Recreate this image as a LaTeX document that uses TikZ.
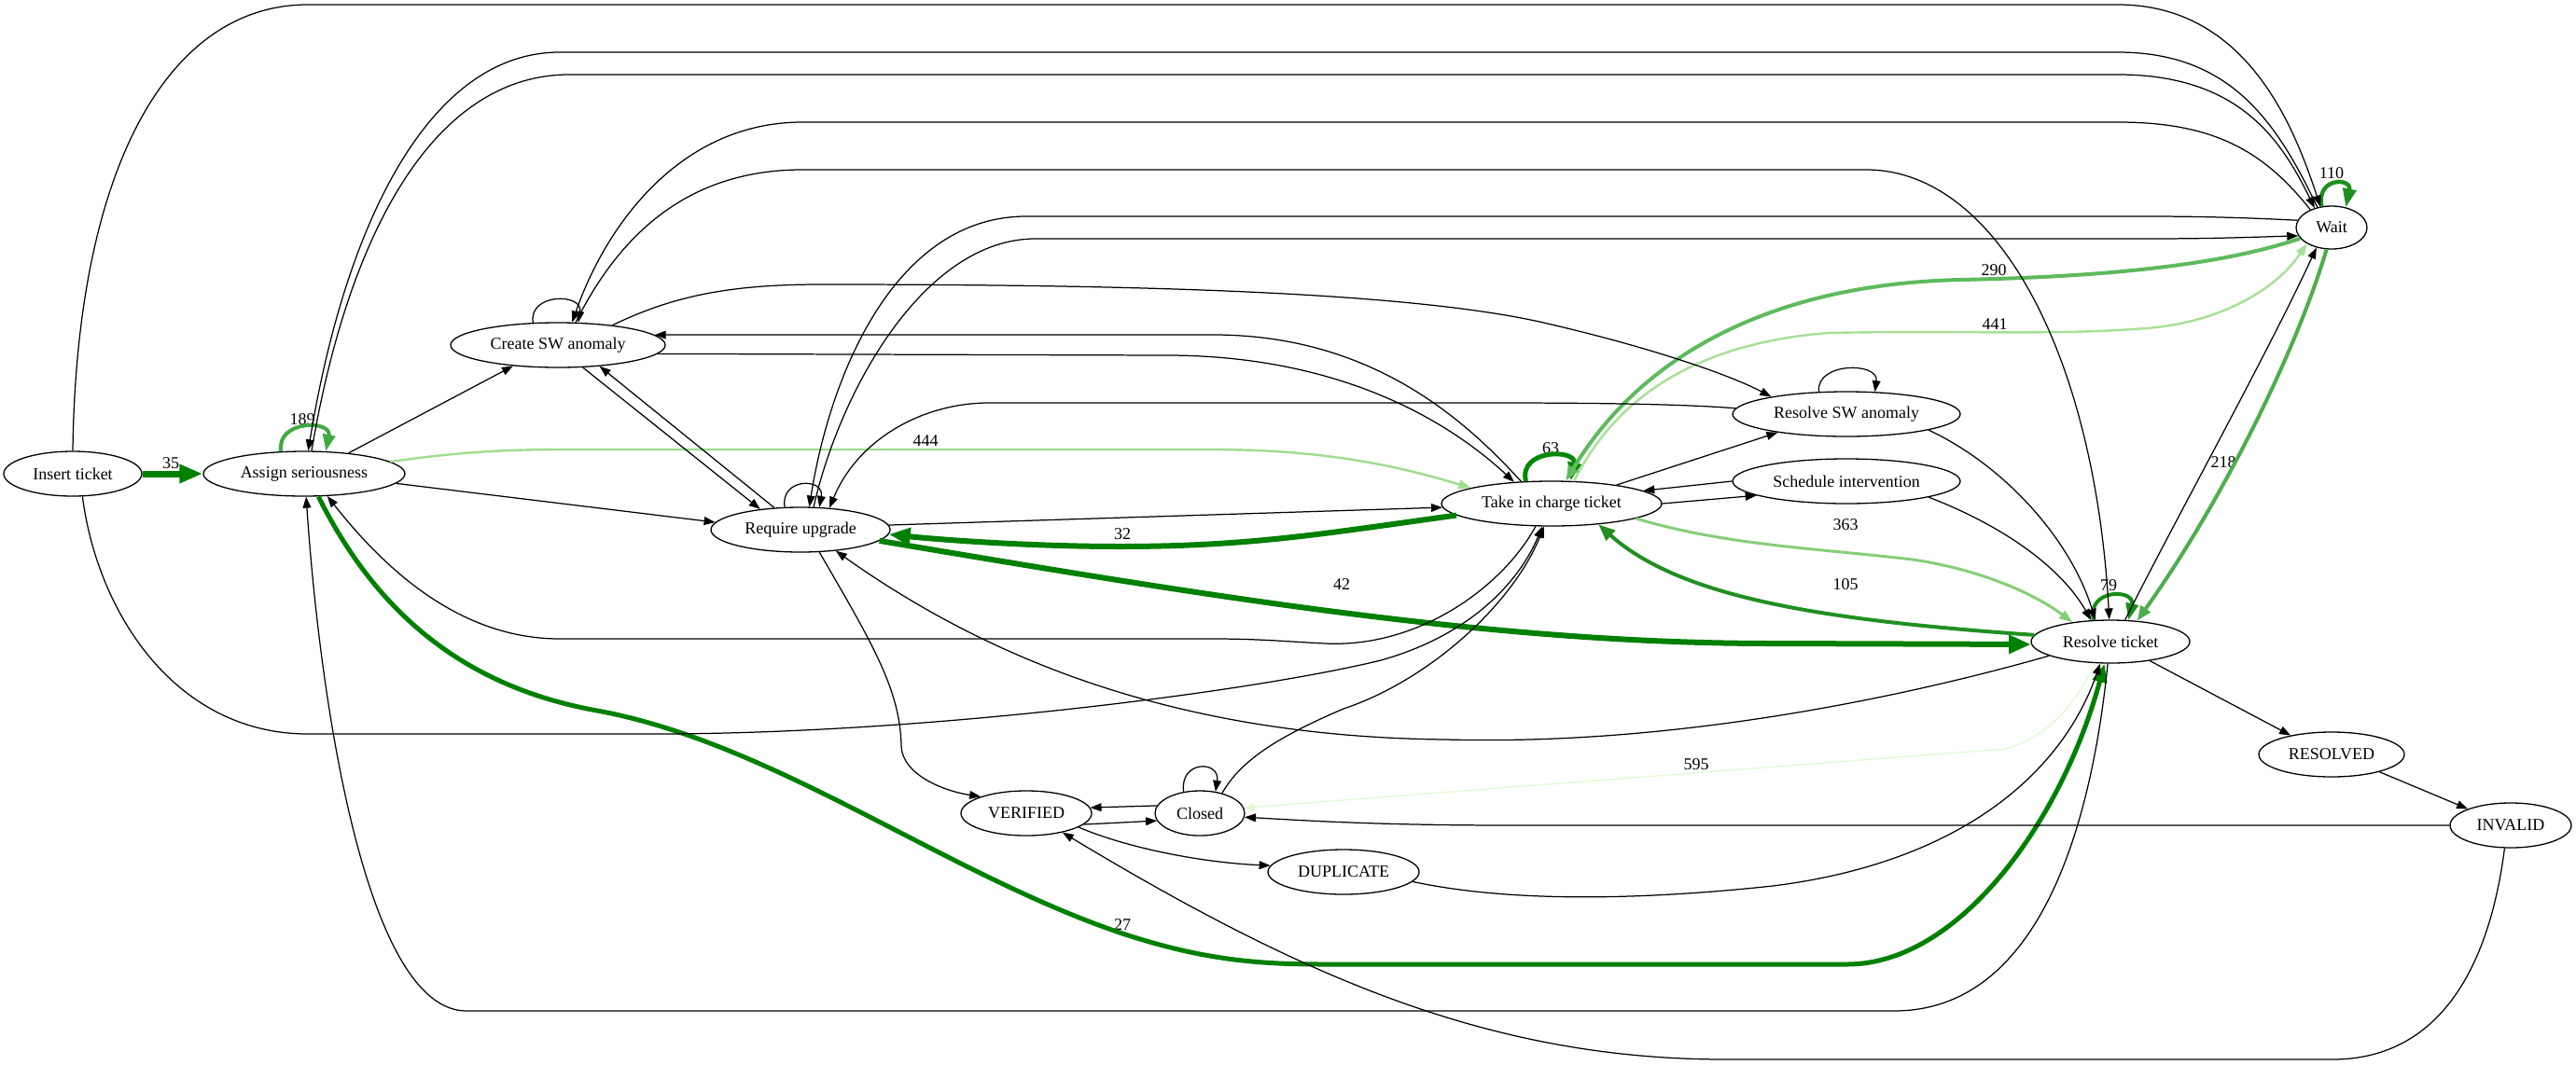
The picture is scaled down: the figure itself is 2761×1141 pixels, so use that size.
\documentclass[tikz,border=0pt]{standalone}
\usepackage{fontspec}
\setmainfont{Liberation Serif}
\usetikzlibrary{shapes.geometric,arrows.meta}
\definecolor{gA}{HTML}{008000}
\definecolor{gB}{HTML}{41A941}
\definecolor{gC}{HTML}{078807}
\definecolor{gD}{HTML}{1F901F}
\definecolor{gE}{HTML}{178C17}
\definecolor{gF}{HTML}{218F21}
\definecolor{gG}{HTML}{4DAE4D}
\definecolor{gH}{HTML}{5DBA5D}
\definecolor{gI}{HTML}{86CE78}
\definecolor{gJ}{HTML}{A6E096}
\definecolor{gK}{HTML}{9EDC8E}
\definecolor{gL}{HTML}{DDFBCB}
\begin{document}
\begin{tikzpicture}[x=0.5pt,y=-0.5pt,
  st/.style={ellipse,draw,line width=0.65pt,inner sep=0pt,font=\fontsize{9}{10}\selectfont},
  ed/.style={draw=black,line width=0.62pt,-{Triangle[length=6pt,width=4.4pt]}},
  ge/.style n args={4}{draw=#1,line width=#2,-{Triangle[length=#3,width=#4]}},
  lbl/.style={inner sep=0pt,font=\fontsize{9}{10}\selectfont}]
\path[fill=white] (0,0) rectangle (2761,1141);
\useasboundingbox (0,0) rectangle (2761,1141);

% states
\node[st,minimum width=74pt,minimum height=24pt] (ins) at (78,508) {Insert ticket};
\node[st,minimum width=108pt,minimum height=24pt] (asg) at (326,508) {Assign seriousness};
\node[st,minimum width=115pt,minimum height=24pt] (csw) at (598,370) {Create SW anomaly};
\node[st,minimum width=96pt,minimum height=24pt] (req) at (858,568) {Require upgrade};
\node[st,minimum width=118pt,minimum height=24pt] (tic) at (1663,540) {Take in charge ticket};
\node[st,minimum width=122pt,minimum height=24pt] (rsw) at (1979,444) {Resolve SW anomaly};
\node[st,minimum width=122pt,minimum height=24pt] (sch) at (1979,516) {Schedule intervention};
\node[st,minimum width=38pt,minimum height=23pt] (wai) at (2499,244) {Wait};
\node[st,minimum width=85pt,minimum height=23pt] (res) at (2262,688) {Resolve ticket};
\node[st,minimum width=78pt,minimum height=24pt] (rsd) at (2499,809) {RESOLVED};
\node[st,minimum width=65pt,minimum height=24pt] (inv) at (2691,885) {INVALID};
\node[st,minimum width=70pt,minimum height=24pt] (ver) at (1100,872) {VERIFIED};
\node[st,minimum width=48pt,minimum height=24pt] (clo) at (1286,872) {Closed};
\node[st,minimum width=81pt,minimum height=24pt] (dup) at (1440,935) {DUPLICATE};

% frequency labels
\node[lbl] (l35) at (183,497) {35};
\node[lbl] (l189) at (324,450) {189};
\node[lbl] (l444) at (992,473) {444};
\node[lbl] (l32) at (1203,573) {32};
\node[lbl] (l42) at (1438,627) {42};
\node[lbl] (l63) at (1662,481) {63};
\node[lbl] (l290) at (2137,290) {290};
\node[lbl] (l441) at (2138,348) {441};
\node[lbl] (l363) at (1978,563) {363};
\node[lbl] (l105) at (1978,627) {105};
\node[lbl] (l110) at (2499,186) {110};
\node[lbl] (l218) at (2383,496) {218};
\node[lbl] (l79) at (2260,628) {79};
\node[lbl] (l595) at (1818,820) {595};
\node[lbl] (l27) at (1203,992) {27};

% weighted transitions
\draw[ge={gA}{3.5pt}{12.5pt}{9.5pt}] (ins.east) -- (asg.west);
\draw[ge={gB}{2pt}{9pt}{6.5pt}] (asg.136) .. controls (296,450) and (356,450) .. (asg.46);
\draw[ge={gK}{1.2pt}{6.5pt}{4.8pt}] (asg.8) .. controls (470,488) and (520,482) .. (600,482) -- (1300,482) .. controls (1420,482) and (1500,500) .. (tic.169);
\draw[ge={gA}{2.5pt}{10pt}{7.5pt}] (asg.-58) .. controls (400,650) and (490,735) .. (640,762) .. controls (830,797) and (1010,935) .. (1200,1000) .. controls (1290,1030) and (1350,1034) .. (1420,1034) -- (1980,1034) .. controls (2100,1034) and (2210,880) .. (res.-105);
\draw[ge={gA}{3pt}{11.5pt}{9pt}] (tic.-173) .. controls (1420,572) and (1340,586) .. (1200,586) .. controls (1100,586) and (1000,578) .. (req.-3);
\draw[ge={gA}{3pt}{12pt}{9.5pt}] (req.-8) .. controls (1300,640) and (1600,690) .. (1900,690) -- (res.-178);
\draw[ge={gC}{2.5pt}{10pt}{7pt}] (tic.139) .. controls (1627,481) and (1691,481) .. (tic.50);
\draw[ge={gI}{1.5pt}{7pt}{5pt}] (tic.-10) .. controls (1850,585) and (1950,588) .. (2050,600) .. controls (2130,612) and (2185,640) .. (res.153);
\draw[ge={gF}{2pt}{9pt}{7pt}] (res.175) .. controls (1950,665) and (1800,640) .. (tic.-24);
\draw[ge={gJ}{1.2pt}{6.5pt}{4.8pt}] (tic.45) .. controls (1720,450) and (1790,370) .. (1960,357) .. controls (2100,354) and (2200,360) .. (2300,352) .. controls (2380,346) and (2440,310) .. (wai.-147);
\draw[ge={gH}{2pt}{8pt}{6pt}] (wai.-161) .. controls (2380,285) and (2250,297) .. (2100,300) .. controls (1900,305) and (1760,380) .. (tic.58);
\draw[ge={gD}{2.2pt}{10pt}{7pt}] (wai.115) .. controls (2482,190) and (2521,190) .. (wai.55);
\draw[ge={gG}{2pt}{8pt}{6pt}] (wai.-103) .. controls (2460,380) and (2380,540) .. (res.38);
\draw[ge={gE}{2pt}{9pt}{6.5pt}] (res.128) .. controls (2236,631) and (2289,631) .. (res.50);
\draw[ge={gL}{0.6pt}{5.5pt}{4pt}] (res.-125) .. controls (2225,755) and (2195,790) .. (2150,803) -- (clo.7);

% plain transitions
\draw[ed] (ins.north) .. controls (82,180) and (180,5) .. (330,5) -- (2270,5) .. controls (2410,5) and (2460,140) .. (wai.118);
\draw[ed] (ins.-67) .. controls (105,660) and (190,787) .. (330,787) -- (700,787) .. controls (1000,787) and (1350,740) .. (1480,708) .. controls (1580,680) and (1630,620) .. (tic.-112);
\draw[ed] (wai.125) .. controls (2440,130) and (2390,56) .. (2270,56) -- (600,56) .. controls (460,56) and (370,240) .. (asg.80);
\draw[ed] (asg.72) .. controls (375,240) and (470,80) .. (610,80) -- (2270,80) .. controls (2400,80) and (2445,150) .. (wai.131);
\draw[ed] (wai.140) .. controls (2425,160) and (2370,131) .. (2270,131) -- (860,131) .. controls (730,131) and (650,240) .. (csw.58);
\draw[ed] (csw.52) .. controls (660,260) and (730,182) .. (860,182) -- (2000,182) .. controls (2140,182) and (2245,380) .. (res.93);
\draw[ed] (asg.25) -- (csw.-155);
\draw[ed] (asg.-6) -- (req.175);
\draw[ed] (csw.138) .. controls (566,314) and (625,314) .. (csw.48);
\draw[ed] (csw.-42) -- (req.153);
\draw[ed] (req.140) -- (csw.-27);
\draw[ed] (csw.20) .. controls (720,318) and (780,305) .. (880,305) .. controls (1200,305) and (1500,312) .. (1650,345) .. controls (1760,370) and (1850,400) .. (rsw.167);
\draw[ed] (tic.144) .. controls (1570,450) and (1470,359) .. (1300,359) -- (csw.6);
\draw[ed] (csw.-5) -- (1250,381) .. controls (1420,381) and (1540,440) .. (tic.150);
\draw[ed] (req.125) .. controls (836,512) and (884,512) .. (req.50);
\draw[ed] (wai.168) .. controls (2400,233) and (2350,232) .. (2300,232) -- (1100,232) .. controls (960,232) and (890,400) .. (req.69);
\draw[ed] (req.60) .. controls (900,420) and (990,256) .. (1110,256) -- (2300,256) .. controls (2380,256) and (2420,254) .. (wai.-166);
\draw[ed] (req.3) -- (tic.-178);
\draw[ed] (req.-50) .. controls (935,690) and (965,740) .. (966,800) .. controls (967,830) and (1010,848) .. (ver.160);
\draw[ed] (res.-167) .. controls (2050,745) and (1800,800) .. (1550,793) .. controls (1250,790) and (1050,700) .. (req.-31);
\draw[ed] (tic.16) -- (rsw.-165);
\draw[ed] (sch.west) -- (tic.8);
\draw[ed] (tic.0) -- (sch.-171);
\draw[ed] (rsw.177) .. controls (1800,433) and (1700,432) .. (1600,432) -- (1060,432) .. controls (990,432) and (920,470) .. (req.37);
\draw[ed] (rsw.141) .. controls (1946,388) and (2014,388) .. (rsw.38);
\draw[ed] (rsw.-11) .. controls (2150,500) and (2220,580) .. (res.125);
\draw[ed] (sch.-11) .. controls (2150,565) and (2210,610) .. (res.132);
\draw[ed] (res.56) .. controls (2330,560) and (2430,380) .. (wai.-127);
\draw[ed] (res.-26) -- (rsd.155);
\draw[ed] (rsd.-20) -- (inv.159);
\draw[ed] (inv.west) -- (1620,885) .. controls (1480,885) and (1400,880) .. (clo.-5);
\draw[ed] (inv.-105) .. controls (2665,1060) and (2600,1136) .. (2500,1136) -- (1850,1136) .. controls (1600,1136) and (1400,1050) .. (ver.-28);
\draw[ed] (clo.127) .. controls (1264,815) and (1308,815) .. (clo.54);
\draw[ed] (clo.170) -- (ver.5);
\draw[ed] (ver.-11) -- (clo.-170);
\draw[ed] (ver.-15) .. controls (1210,910) and (1290,925) .. (dup.175);
\draw[ed] (dup.-8) .. controls (1620,968) and (1760,965) .. (1900,950) .. controls (2100,925) and (2210,830) .. (res.-115);
\draw[ed] (res.-97) .. controls (2240,900) and (2180,1084) .. (2030,1084) -- (500,1084) .. controls (390,1084) and (342,740) .. (asg.-85);
\draw[ed] (clo.42) .. controls (1330,815) and (1370,790) .. (1440,760) .. controls (1530,730) and (1620,650) .. (tic.-108);
\draw[ed] (tic.-125) .. controls (1610,630) and (1520,695) .. (1420,690) .. controls (1380,688) and (1350,685) .. (1300,685) -- (600,685) .. controls (500,685) and (420,620) .. (asg.-44);
\end{tikzpicture}
\end{document}
